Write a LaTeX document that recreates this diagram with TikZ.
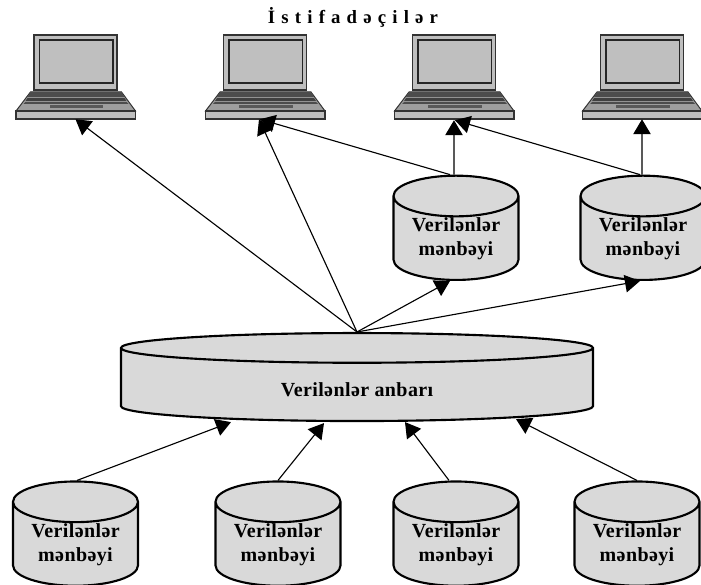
\documentclass[tikz,border=0pt]{standalone}
\usepackage{fontspec}
\setmainfont{Liberation Serif}
\usetikzlibrary{arrows.meta,calc,shapes.geometric}

\tikzset{
  srcbox/.style={cylinder, shape border rotate=90, draw=black, line width=1.7pt,
    cylinder uses custom fill, cylinder body fill=srcgray, cylinder end fill=srcgray,
    shape aspect=0.46, minimum width=100pt, minimum height=78.6pt, inner sep=0pt,
    align=center, font=\fontsize{16}{19.2}\selectfont\bfseries\addfontfeatures{LetterSpace=2}},
  whbox/.style={srcbox, shape aspect=0.195, minimum width=377.6pt, minimum height=70.4pt},
  lapbox/.style={inner sep=0pt, minimum width=96pt, minimum height=67.2pt},
  flow/.style={draw=black, line width=0.9pt, -{Triangle[length=12pt,width=14pt]}}
}
\definecolor{srcgray}{gray}{0.85}
\definecolor{lapgray}{gray}{0.75}
\definecolor{deckgray}{gray}{0.62}

\newcommand{\laptop}[2]{
\begin{scope}[shift={(#1,35)}]
\fill[fill=lapgray, draw=black!80, line width=1pt] (-41.5,0) rectangle (41.5,55);
\fill[fill=lapgray, draw=black!85, line width=1.2pt] (-36,5) rectangle (37.5,48);
\fill[fill=deckgray, draw=black!80, line width=0.8pt] (-45,57) -- (46,57) -- (60,76) -- (-59.5,76) -- cycle;
\fill[fill=black!70] (-45,57) -- (46,57) -- (49,62) -- (-48,62) -- cycle;
\fill[fill=black!75] (-48,63) -- (49,63) -- (51,66) -- (-50,66) -- cycle;
\fill[fill=black!70] (-50,67) -- (51,67) -- (53,69) -- (-52,69) -- cycle;
\fill[fill=black!65] (-26,70) rectangle (27.5,73);
\fill[fill=lapgray, draw=black!80, line width=1pt] (-59.5,76) rectangle (60,84);
\node[lapbox] (#2) at (0,42) {};
\end{scope}
}

\begin{document}
\begin{tikzpicture}[x=0.8pt,y=-0.8pt]
\useasboundingbox (0,0) rectangle (701,585);

\node (title) at (353,17) {\fontsize{15}{17}\selectfont\bfseries\addfontfeatures{LetterSpace=33}İstifadəçilər};

% users
\laptop{75.5}{user1}
\laptop{265}{user2}
\laptop{454}{user3}
\laptop{642}{user4}

% upper sources
\node[srcbox] (src5) at (456,238.5) {Verilənlər\\mənbəyi};
\node[srcbox] (src6) at (643,238.5) {Verilənlər\\mənbəyi};

\node[whbox] (wh) at (357,385) {\raisebox{-3.4pt}[\height][\depth]{Verilənlər anbarı}};

% lower sources
\node[srcbox] (src1) at (75.5,544.3) {Verilənlər\\mənbəyi};
\node[srcbox] (src2) at (278,544.3) {Verilənlər\\mənbəyi};
\node[srcbox] (src3) at (456,544.3) {Verilənlər\\mənbəyi};
\node[srcbox] (src4) at (637,544.3) {Verilənlər\\mənbəyi};

% into the warehouse
\draw[flow] ($(src1.north)+(1.5,0)$) -- ($(wh.south)+(-126,0)$);
\draw[flow] (src2.north) -- ($(wh.south)+(-33,1)$);
\draw[flow] ($(src3.north)+(-7,0)$) -- ($(wh.south)+(48,0)$);
\draw[flow] (src4.north) -- ($(wh.south)+(159,-3)$);

% out of the warehouse
\draw[flow] (wh.north) -- (user1.south);
\draw[flow] (wh.north) -- ($(user2.south)+(-6,0)$);
\draw[flow] (wh.north) -- ($(src5.south)+(-6,0)$);
\draw[flow] (wh.north) -- ($(src6.south)+(-3,0)$);

% sources to users
\draw[flow] ($(src5.north)+(-6,0)$) -- ($(user2.south)+(-5,0)$);
\draw[flow] ($(src5.north)+(-2,0)$) -- ($(user3.south)+(0,1)$);
\draw[flow] ($(src6.north)+(-3,0)$) -- ($(user3.south)+(1,1)$);
\draw[flow] ($(src6.north)+(-1,0)$) -- (user4.south);
\end{tikzpicture}
\end{document}
